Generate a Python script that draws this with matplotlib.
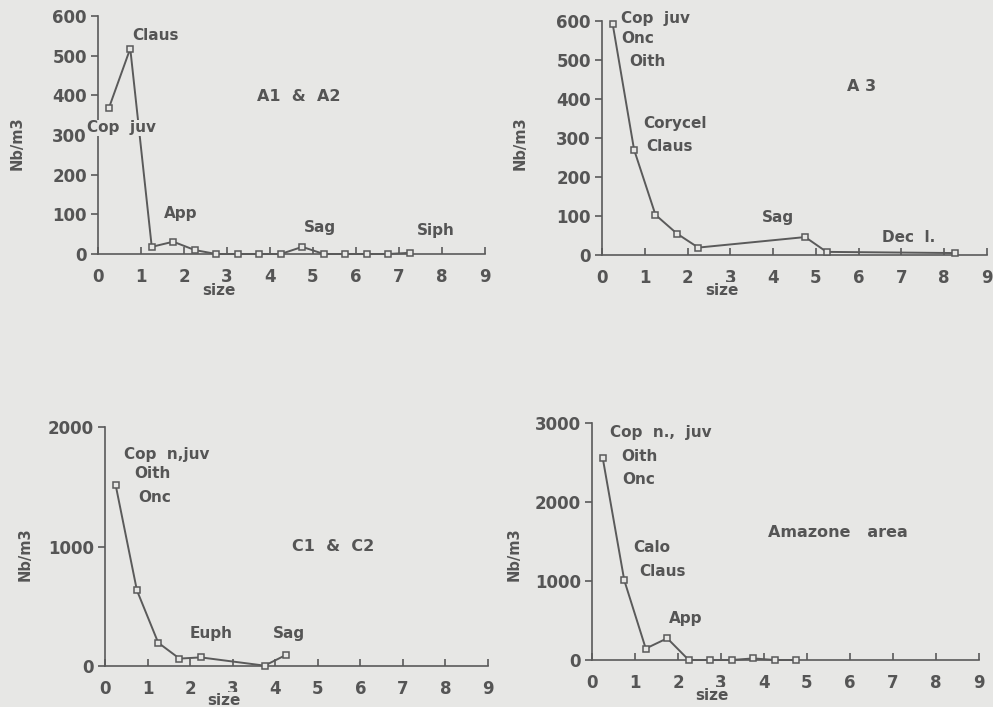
import matplotlib
matplotlib.use("Agg")
import matplotlib.pyplot as plt

# ---------------- data ----------------
size_a12 = [0.25, 0.75, 1.25, 1.75, 2.25, 2.75, 3.25, 3.75, 4.25, 4.75, 5.25, 5.75, 6.25, 6.75, 7.25]
nb_a12 = [367, 518, 18, 31, 10, 0, 0, 0, 0, 18, 0, 0, 0, 0, 3]

size_a3 = [0.25, 0.75, 1.25, 1.75, 2.25, 4.75, 5.25, 8.25]
nb_a3 = [592, 270, 103, 55, 19, 46, 8, 5]

size_c12 = [0.25, 0.75, 1.25, 1.75, 2.25, 3.75, 4.25]
nb_c12 = [1515, 633, 195, 62, 72, 3, 92]

size_amz = [0.25, 0.75, 1.25, 1.75, 2.25, 2.75, 3.25, 3.75, 4.25, 4.75]
nb_amz = [2555, 1010, 145, 275, 0, 0, 0, 20, 0, 0]

xticks = [0, 1, 2, 3, 4, 5, 6, 7, 8, 9]
yticks_a = [0, 100, 200, 300, 400, 500, 600]
yticks_c = [0, 1000, 2000]
yticks_amz = [0, 1000, 2000, 3000]

titles = ["A1  &  A2", "A 3", "C1  &  C2", "Amazone   area"]

# annotations: (text, x, y) in data coordinates
notes_a12 = [("Claus", 0.80, 550), ("Cop  juv", -0.25, 318), ("App", 1.53, 103),
             ("Sag", 4.79, 68), ("Siph", 7.42, 58)]
notes_a3 = [("Cop  juv", 0.45, 607), ("Onc", 0.44, 554), ("Oith", 0.63, 497),
            ("Corycel", 0.96, 338), ("Claus", 1.03, 277), ("Sag", 3.74, 97),
            ("Dec  l.", 6.54, 46)]
notes_c12 = [("Cop  n,juv", 0.45, 1774), ("Oith", 0.68, 1607), ("Onc", 0.78, 1414),
             ("Euph", 1.98, 276), ("Sag", 3.94, 276)]
notes_amz = [("Cop  n.,  juv", 0.42, 2886), ("Oith", 0.67, 2582), ("Onc", 0.70, 2291),
             ("Calo", 0.96, 1430), ("Claus", 1.10, 1114), ("App", 1.80, 519)]

# ---------------- style ----------------
BG = "#e7e7e5"
FG = "#555555"
LC = "#5a5a5a"
FONT = "DejaVu Sans"

fig = plt.figure(figsize=(9.93, 7.07), dpi=100, facecolor=BG)

W, H = 993.0, 707.0
def rect(l, r, b, t):
    return [l / W, 1 - b / H, (r - l) / W, (b - t) / H]

panels = [
    dict(rect=rect(98, 485, 254, 16), x=size_a12, y=nb_a12, yt=yticks_a, ylim=600,
         title=titles[0], tpos=(3.7, 398), notes=notes_a12, ylab=(-0.189, 0.466), xlab=(0.313, -0.122)),
    dict(rect=rect(602, 987, 255, 21), x=size_a3, y=nb_a3, yt=yticks_a, ylim=600,
         title=titles[1], tpos=(5.72, 431), notes=notes_a3, ylab=(-0.192, 0.479), xlab=(0.312, -0.12)),
    dict(rect=rect(105, 488, 666, 427), x=size_c12, y=nb_c12, yt=yticks_c, ylim=2000,
         title=titles[2], tpos=(4.39, 996), notes=notes_c12, ylab=(-0.188, 0.469), xlab=(0.31, -0.113)),
    dict(rect=rect(592, 979, 660, 423), x=size_amz, y=nb_amz, yt=yticks_amz, ylim=3000,
         title=titles[3], tpos=(4.09, 1620), notes=notes_amz, ylab=(-0.181, 0.447), xlab=(0.31, -0.118)),
]

for p in panels:
    ax = fig.add_axes(p["rect"])
    ax.set_facecolor(BG)
    ax.patch.set_alpha(0)
    ax.plot(p["x"], p["y"], color=LC, lw=1.4, marker="s", markersize=4.5,
            markerfacecolor=BG, markeredgecolor=LC, markeredgewidth=1.1, zorder=3, clip_on=False)
    ax.set_xlim(0, 9)
    ax.set_ylim(0, p["ylim"])
    ax.set_xticks(xticks)
    ax.set_yticks(p["yt"])
    for s in ("top", "right"):
        ax.spines[s].set_visible(False)
    for s in ("left", "bottom"):
        ax.spines[s].set_color(LC)
        ax.spines[s].set_linewidth(1.2)
    ax.tick_params(axis="x", direction="in", length=5, width=1.2, color=LC, pad=10,
                   labelsize=12, labelcolor=FG)
    ax.tick_params(axis="y", direction="out", length=5, width=1.2, color=LC, pad=3,
                   labelsize=12, labelcolor=FG)
    for lab in ax.get_xticklabels() + ax.get_yticklabels():
        lab.set_fontfamily(FONT)
        lab.set_fontweight("bold")
    ax.set_xlabel("size", fontsize=11, fontweight="bold", color=FG, family=FONT,
                  bbox=dict(facecolor=BG, edgecolor="none", pad=0.5))
    ax.xaxis.set_label_coords(*p["xlab"])
    ax.set_ylabel("Nb/m3", fontsize=10.5, fontweight="bold", color=FG, family=FONT)
    ax.yaxis.set_label_coords(*p["ylab"])
    ax.text(p["tpos"][0], p["tpos"][1], p["title"], fontsize=11.5, fontweight="bold",
            color=FG, family=FONT, ha="left", va="center", zorder=5)
    for t, x, y in p["notes"]:
        ax.text(x, y, t, fontsize=11, fontweight="bold", color=FG, family=FONT,
                ha="left", va="center", zorder=5, clip_on=False,
                bbox=dict(facecolor=BG, edgecolor="none", pad=0.6))

fig.savefig("out.png", dpi=100, facecolor=BG)
